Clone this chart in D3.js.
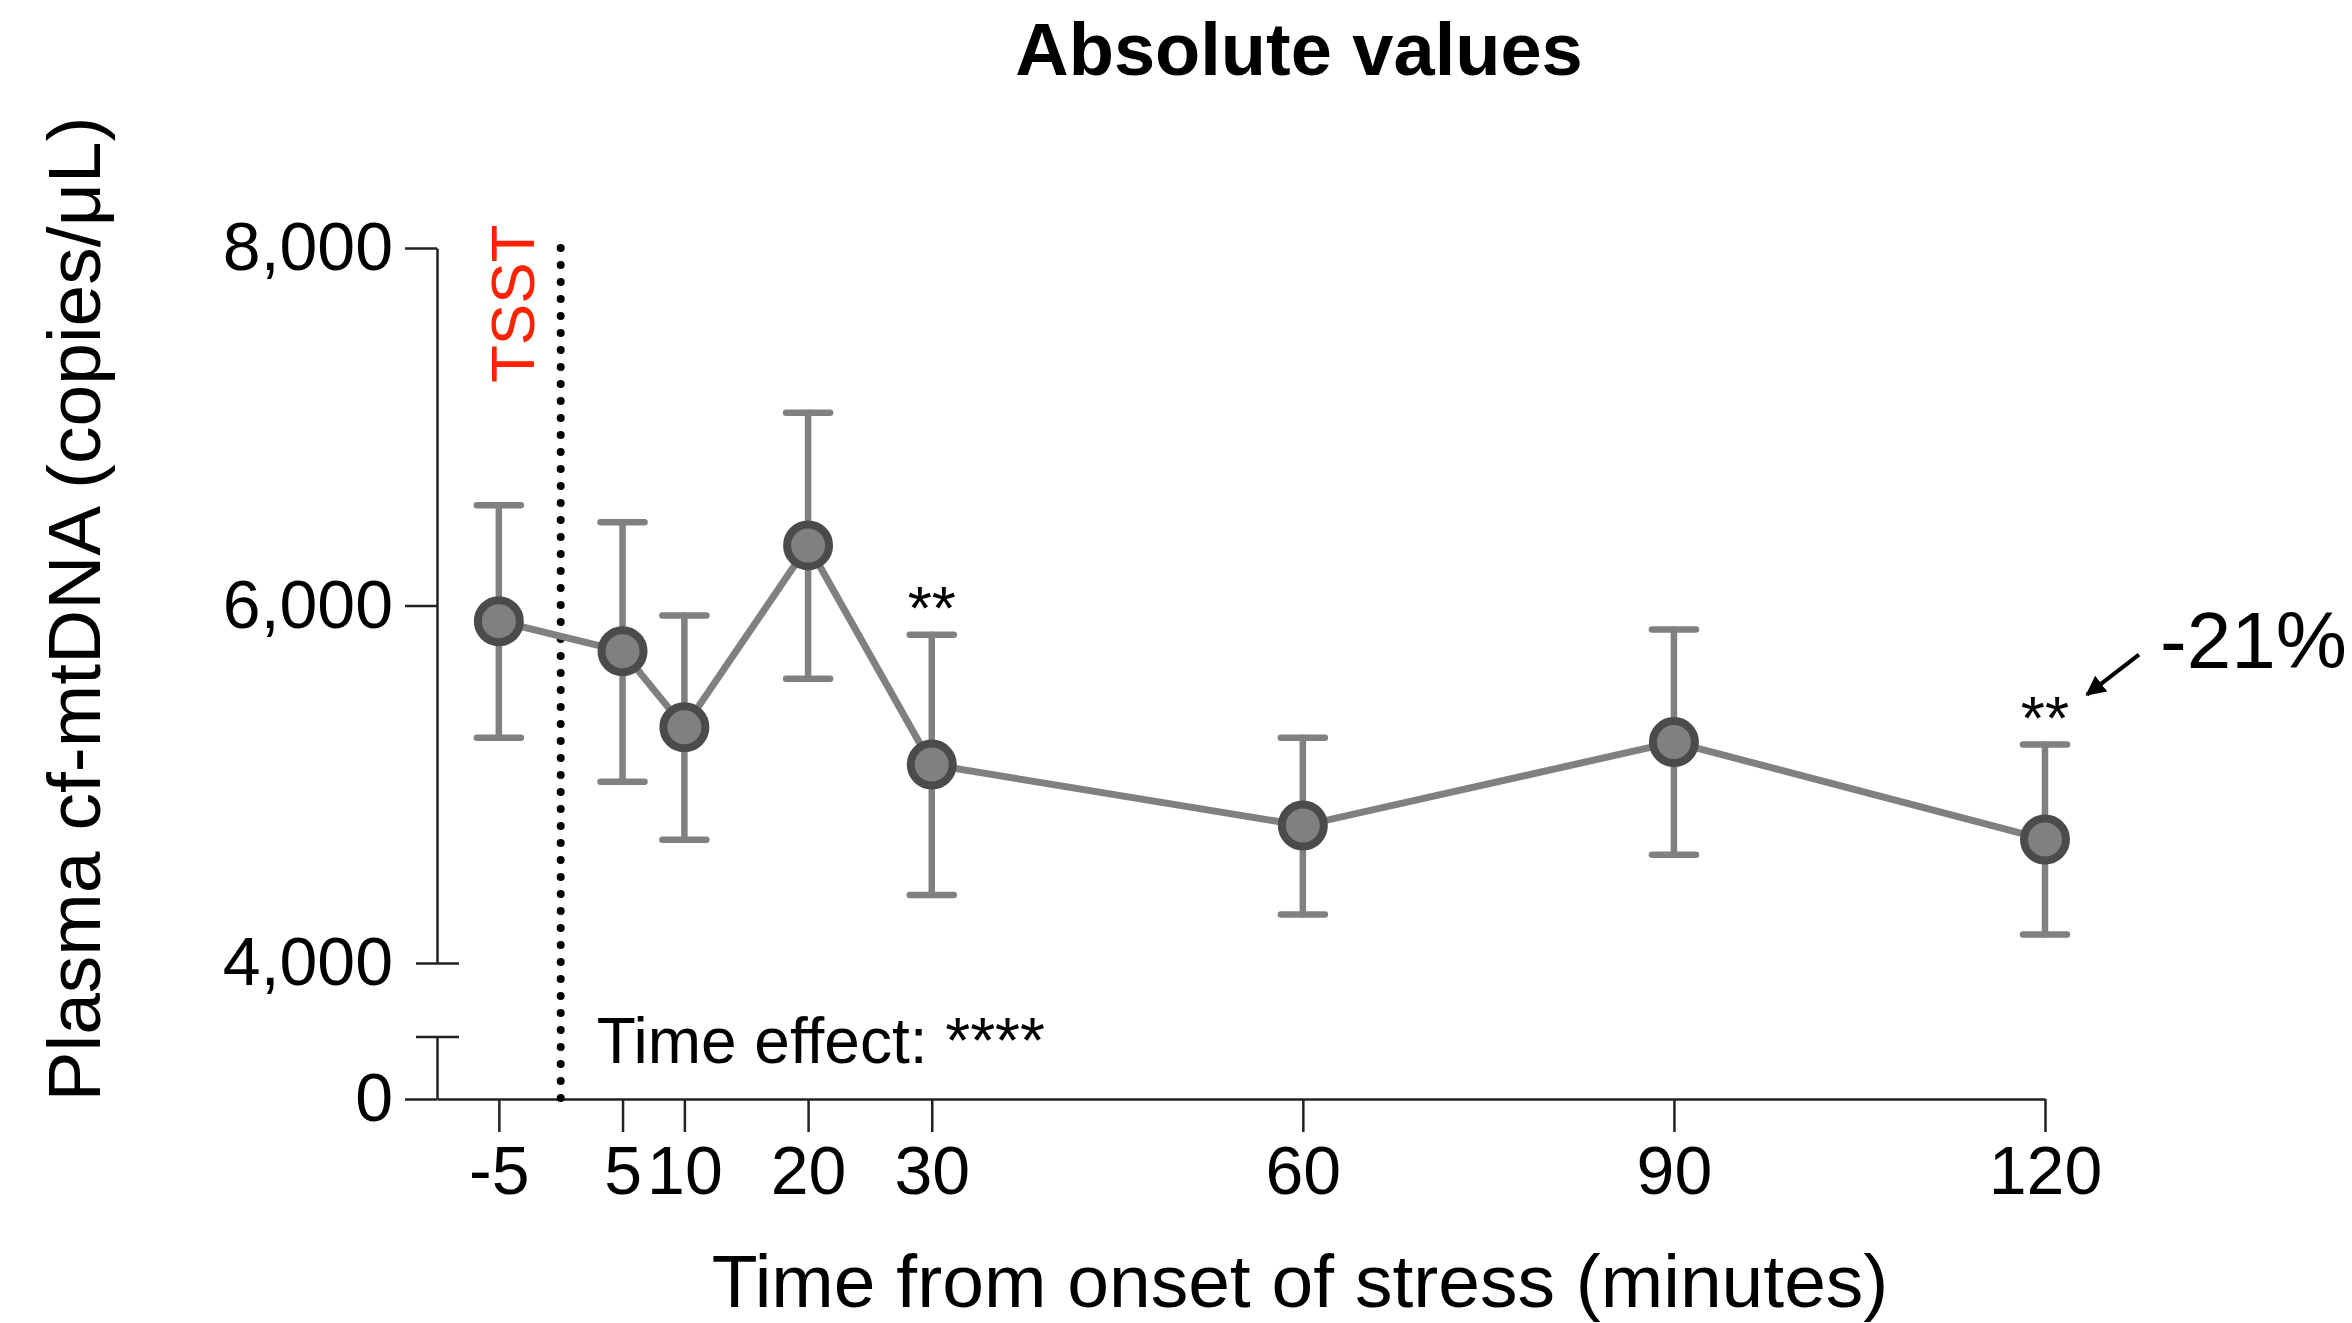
<!DOCTYPE html>
<html>
<head>
<meta charset="utf-8">
<script src="https://cdn.jsdelivr.net/npm/d3@7"></script>
<style>
  body { margin: 0; background: #fff; }
  svg { display: block; font-family: "Liberation Sans", Arial, Helvetica, sans-serif; }
</style>
</head>
<body>
<svg width="2352" height="1323"></svg>
<script>
// minutes from onset of stress
const times = [-5, 5, 10, 20, 30, 60, 90, 120];
// mean plasma cf-mtDNA (copies/µL) and error bar ends
const means = [5912, 5744, 5319, 6336, 5110, 4769, 5236, 4691];
const upper = [6561, 6466, 5944, 7078, 5836, 5260, 5866, 5222];
const lower = [5260, 5014, 4689, 5590, 4380, 4271, 4605, 4159];
const sigMarks = ["", "", "", "", "**", "", "", "**"];
const yTicks = [4000, 6000, 8000];

const svg = d3.select('svg');
const fmt = d3.format(',');

const x = d3.scaleLinear().domain([-10, 120]).range([437, 2045]);
const y = d3.scaleLinear().domain([4000, 8000]).range([963, 248]);
// lower (broken) segment of the y axis
const yLow = d3.scaleLinear().domain([0, 350]).range([1099, 1037]);

const grey = '#808080';
const dark = '#4a4c4b';

// title
svg.append('text')
    .attr('x', 1299).attr('y', 75)
    .attr('text-anchor', 'middle')
    .style('font-size', '74px').style('font-weight', 'bold')
    .text('Absolute values');

// y axis, upper segment
const yAxisG = svg.append('g')
    .attr('transform', `translate(${x(-10)},0)`)
    .call(d3.axisLeft(y).tickValues(yTicks).tickFormat(fmt).tickSize(32).tickSizeOuter(0).tickPadding(12));

// 4,000 is the break mark: it crosses the axis
yAxisG.selectAll('.tick').filter(d => d === 4000).select('line')
    .attr('x1', -21).attr('x2', 22);

// y axis, lower segment
const yLowG = svg.append('g')
    .attr('transform', `translate(${x(-10)},0)`)
    .call(d3.axisLeft(yLow).tickValues([0]).tickFormat(fmt).tickSize(32).tickSizeOuter(0).tickPadding(12));
yLowG.append('line')
    .attr('x1', -21).attr('x2', 22)
    .attr('y1', yLow.range()[1]).attr('y2', yLow.range()[1])
    .attr('stroke', 'currentColor');

// x axis
const xAxisG = svg.append('g')
    .attr('transform', `translate(0,${yLow(0)})`)
    .call(d3.axisBottom(x).tickValues(times).tickFormat(d => String(d))
        .tickSize(33).tickSizeOuter(0).tickPadding(14));

[yAxisG, yLowG, xAxisG].forEach(g => {
    g.selectAll('path, line').attr('stroke', '#222').attr('stroke-width', 2.5);
    g.selectAll('text').style('font-size', '68px').attr('fill', '#000');
});

// axis titles
svg.append('text')
    .attr('x', 1300).attr('y', 1307)
    .attr('text-anchor', 'middle')
    .style('font-size', '75px')
    .text('Time from onset of stress (minutes)');

svg.append('text')
    .attr('transform', 'translate(100,609) rotate(-90)')
    .attr('text-anchor', 'middle')
    .style('font-size', '75px')
    .text('Plasma cf-mtDNA (copies/μL)');

// stressor onset
svg.append('line')
    .attr('x1', x(0)).attr('x2', x(0))
    .attr('y1', y(8000)).attr('y2', yLow(0) + 2)
    .attr('stroke', '#000')
    .attr('stroke-width', 8)
    .attr('stroke-linecap', 'round')
    .attr('stroke-dasharray', '0 17');

svg.append('text')
    .attr('transform', `translate(${x(0) - 27},383) rotate(-90)`)
    .attr('fill', '#ff2200')
    .style('font-size', '62px')
    .text('TSST');

svg.append('text')
    .attr('x', x(0) + 36).attr('y', 1063)
    .style('font-size', '64px')
    .text('Time effect: ****');

const data = times.map((t, i) => ({ t, m: means[i], hi: upper[i], lo: lower[i], sig: sigMarks[i] }));

// connecting line
svg.append('path')
    .datum(data)
    .attr('fill', 'none')
    .attr('stroke', grey)
    .attr('stroke-width', 7)
    .attr('d', d3.line().x(d => x(d.t)).y(d => y(d.m)));

// error bars
const eb = svg.append('g')
    .attr('stroke', grey)
    .attr('stroke-width', 6.5)
    .attr('stroke-linecap', 'round');

eb.selectAll('line.v')
    .data(data)
    .join('line')
    .attr('class', 'v')
    .attr('x1', d => x(d.t)).attr('x2', d => x(d.t))
    .attr('y1', d => y(d.hi)).attr('y2', d => y(d.lo));

eb.selectAll('line.cap')
    .data(data.flatMap(d => [{ t: d.t, v: d.hi }, { t: d.t, v: d.lo }]))
    .join('line')
    .attr('class', 'cap')
    .attr('x1', d => x(d.t) - 22).attr('x2', d => x(d.t) + 22)
    .attr('y1', d => y(d.v)).attr('y2', d => y(d.v));

// markers
svg.selectAll('circle')
    .data(data)
    .join('circle')
    .attr('cx', d => x(d.t))
    .attr('cy', d => y(d.m))
    .attr('r', 21)
    .attr('fill', grey)
    .attr('stroke', dark)
    .attr('stroke-width', 8);

// significance marks
svg.selectAll('text.sig')
    .data(data.filter(d => d.sig))
    .join('text')
    .attr('class', 'sig')
    .attr('x', d => x(d.t))
    .attr('y', d => y(d.hi) - 6)
    .attr('text-anchor', 'middle')
    .style('font-size', '62px')
    .text(d => d.sig);

// -21% annotation on the last point
const last = data[data.length - 1];
const ax = x(last.t), ay = y(last.hi);

svg.append('defs').append('marker')
    .attr('id', 'arrow')
    .attr('viewBox', '0 0 10 10')
    .attr('refX', 9).attr('refY', 5)
    .attr('markerWidth', 5).attr('markerHeight', 5)
    .attr('markerUnits', 'strokeWidth')
    .attr('orient', 'auto')
    .append('path')
    .attr('d', 'M0,0L10,5L0,10z')
    .attr('fill', '#000');

svg.append('line')
    .attr('x1', ax + 94).attr('y1', ay - 90)
    .attr('x2', ax + 42).attr('y2', ay - 50)
    .attr('stroke', '#000')
    .attr('stroke-width', 4)
    .attr('marker-end', 'url(#arrow)');

svg.append('text')
    .attr('x', ax + 115).attr('y', 668)
    .style('font-size', '80px')
    .text('-21%');
</script>
</body>
</html>
